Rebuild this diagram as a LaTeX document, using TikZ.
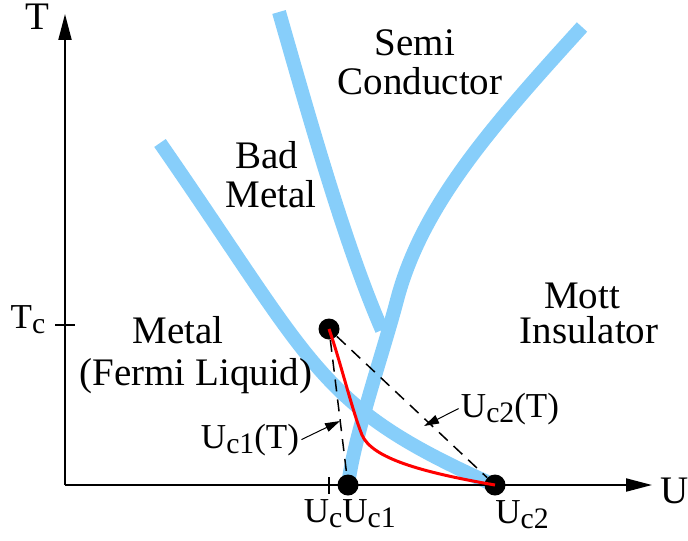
\documentclass[tikz,border=0pt]{standalone}
\usepackage{fontspec}
\setmainfont{Liberation Serif}
\usepackage{graphicx}
\usetikzlibrary{arrows.meta,positioning}
\definecolor{skyb}{RGB}{135,206,250}
\newcommand{\sub}[1]{\raisebox{-0.16em}{\scalebox{0.85}{#1}}}

\begin{document}
\begin{tikzpicture}[
    x=0.5pt, y=-0.5pt,
    bnd/.style={line width=7pt, skyb},
    dot/.style={circle, fill=black, inner sep=0pt, minimum size=10.5pt},
    axis/.style={-{Triangle[length=13pt,width=6.5pt]}, line width=1pt},
    dsh/.style={dash pattern=on 6pt off 4pt, line width=0.75pt},
    arr/.style={-{Triangle[length=7.5pt,width=4.5pt]}, line width=0.5pt},
    lbl/.style={font=\fontsize{19.5}{19.5}\selectfont, inner sep=0pt, anchor=base},
    ulbl/.style={lbl, font=\fontsize{17.5}{17.5}\selectfont}
]
    \useasboundingbox (0,0) rectangle (688,540);

    % phase boundaries
    \draw[bnd] (160,143) .. controls (318,371) and (317,406) .. (494,485);
    \draw[bnd] (279,12) .. controls (310,120) and (345,245) .. (382,330);
    \draw[bnd] (582,27) .. controls (492,126) and (422,205) .. (397,300)
                        .. controls (384,350) and (353,440) .. (348,486);

    % axes
    \coordinate (O) at (65,485);
    \coordinate (Tend) at (65,14);
    \coordinate (Uend) at (652,485);
    \draw[axis] (O) -- (Tend);
    \draw[axis] (O) -- (Uend);
    \draw[line width=1pt] (55,325) -- (75,325);
    \draw[line width=1pt] (329,477) -- (329,494);

    % critical points
    \node[dot] (crit) at (329,329) {};
    \node[dot] (uc1) at (348,485) {};
    \node[dot] (uc2) at (495,485) {};

    \draw[red, line width=1.5pt] (crit.center) .. controls (340,360) and (352,410) .. (362,435)
                                 .. controls (372,458) and (420,472) .. (uc2.center);
    \draw[dsh] (crit) -- (uc1);
    \draw[dsh] (crit) -- (uc2);

    % labels
    \node[lbl] (Tlab) at (37,30) {T};
    \node[lbl] (Ulab) at (675,503) {U};
    \node[ulbl] (Tc) at (28,328) {T\sub{c}};
    \node[ulbl] (Uc) at (323,522) {U\sub{c}};
    \node[ulbl] (Uc1) at (369,522) {U\sub{c1}};
    \node[ulbl] (Uc2) at (522,523) {U\sub{c2}};

    \node[lbl] (semi) at (415,55) {Semi};
    \node[lbl] (cond) at (420,94) {Conductor};
    \node[lbl] (bad) at (267,168) {Bad};
    \node[lbl] (badm) at (271,207) {Metal};
    \node[lbl] (mott) at (582,308) {Mott};
    \node[lbl] (insu) at (589,343) {Insulator};
    \node[lbl] (metal) at (178,343) {Metal};
    \node[lbl] (fermi) at (196,385) {(Fermi Liquid)};

    \node[ulbl] (uc1T) at (250,448) {U\sub{c1}(T)};
    \node[ulbl] (uc2T) at (510,417) {U\sub{c2}(T)};
    \coordinate (p1) at (340,421);
    \coordinate (p2) at (424,426);
    \draw[arr] ([xshift=1pt]uc1T.east) -- (p1);
    \draw[arr] ([xshift=-1pt]uc2T.west) -- (p2);
\end{tikzpicture}
\end{document}
